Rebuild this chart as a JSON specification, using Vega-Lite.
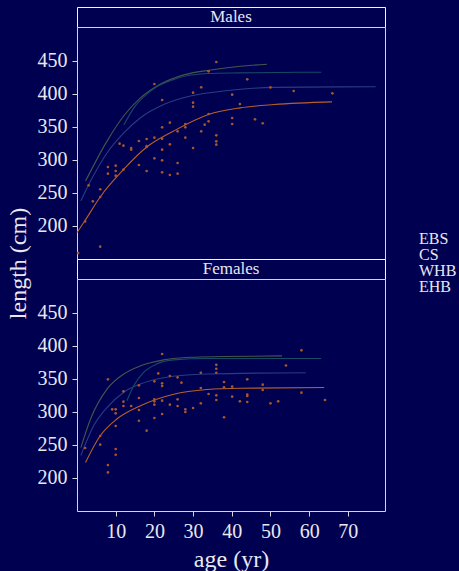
{
  "$schema": "https://vega.github.io/schema/vega-lite/v6.json",
  "background": "#000050",
  "padding": {"left": 5, "top": 6, "right": 5, "bottom": 5},
  "bounds": "flush",
  "config": {
    "font": "Liberation Serif",
    "view": {"stroke": "#d4d4e4", "strokeWidth": 1, "fill": "#000050"},
    "axis": {
      "labelFont": "Liberation Serif", "titleFont": "Liberation Serif",
      "labelColor": "#e8e8f2", "titleColor": "#e8e8f2",
      "labelFontSize": 20, "titleFontSize": 24, "titleFontWeight": "normal",
      "tickColor": "#d4d4e4", "tickSize": 5, "domain": false, "grid": false,
      "labelPadding": 5
    },
    "legend": {
      "labelFont": "Liberation Serif", "labelColor": "#e8e8f2", "labelFontSize": 16
    }
  },
  "resolve": {"scale": {"color": "shared"}, "legend": {"color": "shared"}},
  "datasets": {
    "pts": [
      {"sex": "Males", "age": 36.0, "length": 448.5},
      {"sex": "Males", "age": 34.0, "length": 434.3},
      {"sex": "Males", "age": 20.0, "length": 415.2},
      {"sex": "Males", "age": 44.0, "length": 422.2},
      {"sex": "Males", "age": 32.1, "length": 410.1},
      {"sex": "Males", "age": 30.0, "length": 402.0},
      {"sex": "Males", "age": 50.0, "length": 410.0},
      {"sex": "Males", "age": 56.0, "length": 404.5},
      {"sex": "Males", "age": 66.0, "length": 401.0},
      {"sex": "Males", "age": 40.1, "length": 399.0},
      {"sex": "Males", "age": 22.0, "length": 390.9},
      {"sex": "Males", "age": 30.0, "length": 386.9},
      {"sex": "Males", "age": 30.0, "length": 380.8},
      {"sex": "Males", "age": 42.1, "length": 384.8},
      {"sex": "Males", "age": 34.0, "length": 369.7},
      {"sex": "Males", "age": 40.1, "length": 363.6},
      {"sex": "Males", "age": 40.1, "length": 354.5},
      {"sex": "Males", "age": 46.0, "length": 361.6},
      {"sex": "Males", "age": 48.0, "length": 355.6},
      {"sex": "Males", "age": 34.0, "length": 358.6},
      {"sex": "Males", "age": 33.0, "length": 353.5},
      {"sex": "Males", "age": 28.0, "length": 354.5},
      {"sex": "Males", "age": 28.0, "length": 349.5},
      {"sex": "Males", "age": 24.0, "length": 356.6},
      {"sex": "Males", "age": 22.0, "length": 349.5},
      {"sex": "Males", "age": 26.0, "length": 343.4},
      {"sex": "Males", "age": 32.1, "length": 343.4},
      {"sex": "Males", "age": 28.0, "length": 333.8},
      {"sex": "Males", "age": 30.0, "length": 318.2},
      {"sex": "Males", "age": 36.0, "length": 337.4},
      {"sex": "Males", "age": 36.0, "length": 328.3},
      {"sex": "Males", "age": 36.0, "length": 323.2},
      {"sex": "Males", "age": 20.0, "length": 333.8},
      {"sex": "Males", "age": 22.0, "length": 332.3},
      {"sex": "Males", "age": 18.0, "length": 331.8},
      {"sex": "Males", "age": 18.0, "length": 321.2},
      {"sex": "Males", "age": 18.0, "length": 319.7},
      {"sex": "Males", "age": 16.0, "length": 328.8},
      {"sex": "Males", "age": 14.0, "length": 318.2},
      {"sex": "Males", "age": 14.0, "length": 315.7},
      {"sex": "Males", "age": 12.0, "length": 321.7},
      {"sex": "Males", "age": 11.0, "length": 324.7},
      {"sex": "Males", "age": 24.0, "length": 323.7},
      {"sex": "Males", "age": 22.0, "length": 315.7},
      {"sex": "Males", "age": 20.0, "length": 302.5},
      {"sex": "Males", "age": 22.0, "length": 299.5},
      {"sex": "Males", "age": 26.0, "length": 295.5},
      {"sex": "Males", "age": 16.0, "length": 292.4},
      {"sex": "Males", "age": 18.0, "length": 283.3},
      {"sex": "Males", "age": 22.0, "length": 281.3},
      {"sex": "Males", "age": 24.0, "length": 277.3},
      {"sex": "Males", "age": 26.0, "length": 279.3},
      {"sex": "Males", "age": 12.0, "length": 285.4},
      {"sex": "Males", "age": 10.0, "length": 291.4},
      {"sex": "Males", "age": 10.0, "length": 283.3},
      {"sex": "Males", "age": 10.0, "length": 276.3},
      {"sex": "Males", "age": 8.0, "length": 289.4},
      {"sex": "Males", "age": 8.0, "length": 279.3},
      {"sex": "Males", "age": 6.0, "length": 255.6},
      {"sex": "Males", "age": 6.0, "length": 244.0},
      {"sex": "Males", "age": 3.0, "length": 261.6},
      {"sex": "Males", "age": 4.1, "length": 237.4},
      {"sex": "Males", "age": 2.1, "length": 207.0},
      {"sex": "Males", "age": 6.0, "length": 168.7},
      {"sex": "Males", "age": 0.3, "length": 159.0},
      {"sex": "Females", "age": 22.0, "length": 387.8},
      {"sex": "Females", "age": 58.0, "length": 393.4},
      {"sex": "Females", "age": 54.0, "length": 370.5},
      {"sex": "Females", "age": 36.0, "length": 371.5},
      {"sex": "Females", "age": 36.0, "length": 365.5},
      {"sex": "Females", "age": 36.0, "length": 359.5},
      {"sex": "Females", "age": 32.0, "length": 359.5},
      {"sex": "Females", "age": 21.0, "length": 358.5},
      {"sex": "Females", "age": 24.0, "length": 354.5},
      {"sex": "Females", "age": 26.0, "length": 352.5},
      {"sex": "Females", "age": 27.0, "length": 344.4},
      {"sex": "Females", "age": 20.0, "length": 346.4},
      {"sex": "Females", "age": 22.0, "length": 343.4},
      {"sex": "Females", "age": 22.0, "length": 339.4},
      {"sex": "Females", "age": 16.0, "length": 340.4},
      {"sex": "Females", "age": 8.0, "length": 349.5},
      {"sex": "Females", "age": 12.0, "length": 331.3},
      {"sex": "Females", "age": 12.0, "length": 315.7},
      {"sex": "Females", "age": 12.0, "length": 309.1},
      {"sex": "Females", "age": 14.0, "length": 309.1},
      {"sex": "Females", "age": 10.0, "length": 304.0},
      {"sex": "Females", "age": 9.1, "length": 304.0},
      {"sex": "Females", "age": 10.0, "length": 298.0},
      {"sex": "Females", "age": 10.0, "length": 278.8},
      {"sex": "Females", "age": 16.0, "length": 321.2},
      {"sex": "Females", "age": 16.0, "length": 303.0},
      {"sex": "Females", "age": 16.0, "length": 286.8},
      {"sex": "Females", "age": 18.0, "length": 271.7},
      {"sex": "Females", "age": 20.0, "length": 319.2},
      {"sex": "Females", "age": 20.0, "length": 316.2},
      {"sex": "Females", "age": 20.0, "length": 311.1},
      {"sex": "Females", "age": 20.0, "length": 290.9},
      {"sex": "Females", "age": 22.0, "length": 317.2},
      {"sex": "Females", "age": 22.0, "length": 297.0},
      {"sex": "Females", "age": 24.0, "length": 311.1},
      {"sex": "Females", "age": 26.0, "length": 319.2},
      {"sex": "Females", "age": 26.0, "length": 309.1},
      {"sex": "Females", "age": 28.0, "length": 304.0},
      {"sex": "Females", "age": 28.0, "length": 300.0},
      {"sex": "Females", "age": 30.0, "length": 306.0},
      {"sex": "Females", "age": 32.0, "length": 336.3},
      {"sex": "Females", "age": 32.0, "length": 313.1},
      {"sex": "Females", "age": 34.0, "length": 327.2},
      {"sex": "Females", "age": 36.0, "length": 325.2},
      {"sex": "Females", "age": 36.0, "length": 318.2},
      {"sex": "Females", "age": 38.0, "length": 345.4},
      {"sex": "Females", "age": 38.0, "length": 337.4},
      {"sex": "Females", "age": 38.0, "length": 291.9},
      {"sex": "Females", "age": 40.1, "length": 338.4},
      {"sex": "Females", "age": 40.1, "length": 323.2},
      {"sex": "Females", "age": 42.1, "length": 316.2},
      {"sex": "Females", "age": 44.0, "length": 349.5},
      {"sex": "Females", "age": 44.0, "length": 326.3},
      {"sex": "Females", "age": 44.0, "length": 324.2},
      {"sex": "Females", "age": 44.0, "length": 315.2},
      {"sex": "Females", "age": 48.0, "length": 341.4},
      {"sex": "Females", "age": 48.0, "length": 333.3},
      {"sex": "Females", "age": 50.0, "length": 313.1},
      {"sex": "Females", "age": 52.0, "length": 316.2},
      {"sex": "Females", "age": 58.0, "length": 329.3},
      {"sex": "Females", "age": 64.1, "length": 318.2},
      {"sex": "Females", "age": 2.1, "length": 245.4},
      {"sex": "Females", "age": 6.0, "length": 263.6},
      {"sex": "Females", "age": 6.0, "length": 250.5},
      {"sex": "Females", "age": 8.0, "length": 219.6},
      {"sex": "Females", "age": 8.0, "length": 208.5},
      {"sex": "Females", "age": 10.0, "length": 243.9},
      {"sex": "Females", "age": 10.0, "length": 235.3}
    ],
    "curves": [
      {"sex": "Males", "stock": "EBS", "age": 0.0, "length": 190},
      {"sex": "Males", "stock": "EBS", "age": 2.0, "length": 207.6},
      {"sex": "Males", "stock": "EBS", "age": 6.0, "length": 244},
      {"sex": "Males", "stock": "EBS", "age": 12.1, "length": 286},
      {"sex": "Males", "stock": "EBS", "age": 18.1, "length": 320},
      {"sex": "Males", "stock": "EBS", "age": 25.0, "length": 344},
      {"sex": "Males", "stock": "EBS", "age": 34.0, "length": 369},
      {"sex": "Males", "stock": "EBS", "age": 42.2, "length": 379},
      {"sex": "Males", "stock": "EBS", "age": 50.9, "length": 384},
      {"sex": "Males", "stock": "EBS", "age": 65.9, "length": 388},
      {"sex": "Males", "stock": "CS", "age": 1.0, "length": 238},
      {"sex": "Males", "stock": "CS", "age": 3.5, "length": 268},
      {"sex": "Males", "stock": "CS", "age": 7.8, "length": 311},
      {"sex": "Males", "stock": "CS", "age": 12.1, "length": 341},
      {"sex": "Males", "stock": "CS", "age": 16.4, "length": 364},
      {"sex": "Males", "stock": "CS", "age": 22.4, "length": 384},
      {"sex": "Males", "stock": "CS", "age": 29.3, "length": 397},
      {"sex": "Males", "stock": "CS", "age": 37.9, "length": 404.5},
      {"sex": "Males", "stock": "CS", "age": 50.9, "length": 410},
      {"sex": "Males", "stock": "CS", "age": 77.2, "length": 411},
      {"sex": "Males", "stock": "WHB", "age": 2.2, "length": 268},
      {"sex": "Males", "stock": "WHB", "age": 7.8, "length": 329},
      {"sex": "Males", "stock": "WHB", "age": 12.1, "length": 367},
      {"sex": "Males", "stock": "WHB", "age": 16.4, "length": 394},
      {"sex": "Males", "stock": "WHB", "age": 21.6, "length": 415},
      {"sex": "Males", "stock": "WHB", "age": 27.6, "length": 429},
      {"sex": "Males", "stock": "WHB", "age": 35.4, "length": 437},
      {"sex": "Males", "stock": "WHB", "age": 42.2, "length": 442},
      {"sex": "Males", "stock": "WHB", "age": 49.1, "length": 445},
      {"sex": "Males", "stock": "EHB", "age": 12.1, "length": 353},
      {"sex": "Males", "stock": "EHB", "age": 14.7, "length": 379},
      {"sex": "Males", "stock": "EHB", "age": 19.0, "length": 404.5},
      {"sex": "Males", "stock": "EHB", "age": 25.0, "length": 422},
      {"sex": "Males", "stock": "EHB", "age": 33.6, "length": 431},
      {"sex": "Males", "stock": "EHB", "age": 42.2, "length": 432},
      {"sex": "Males", "stock": "EHB", "age": 63.1, "length": 433},
      {"sex": "Females", "stock": "EBS", "age": 2.2, "length": 223.6},
      {"sex": "Females", "stock": "EBS", "age": 6.0, "length": 264},
      {"sex": "Females", "stock": "EBS", "age": 10.3, "length": 289.4},
      {"sex": "Females", "stock": "EBS", "age": 16.4, "length": 309.5},
      {"sex": "Females", "stock": "EBS", "age": 25.0, "length": 327},
      {"sex": "Females", "stock": "EBS", "age": 33.6, "length": 334},
      {"sex": "Females", "stock": "EBS", "age": 42.2, "length": 336},
      {"sex": "Females", "stock": "EBS", "age": 63.9, "length": 337},
      {"sex": "Females", "stock": "CS", "age": 1.0, "length": 234},
      {"sex": "Females", "stock": "CS", "age": 4.3, "length": 279},
      {"sex": "Females", "stock": "CS", "age": 7.8, "length": 307},
      {"sex": "Females", "stock": "CS", "age": 12.1, "length": 330},
      {"sex": "Females", "stock": "CS", "age": 16.4, "length": 342.5},
      {"sex": "Females", "stock": "CS", "age": 22.4, "length": 352},
      {"sex": "Females", "stock": "CS", "age": 33.6, "length": 357.6},
      {"sex": "Females", "stock": "CS", "age": 59.1, "length": 359.5},
      {"sex": "Females", "stock": "WHB", "age": 1.0, "length": 246},
      {"sex": "Females", "stock": "WHB", "age": 3.5, "length": 289.4},
      {"sex": "Females", "stock": "WHB", "age": 7.8, "length": 335},
      {"sex": "Females", "stock": "WHB", "age": 12.1, "length": 357.6},
      {"sex": "Females", "stock": "WHB", "age": 16.4, "length": 370},
      {"sex": "Females", "stock": "WHB", "age": 22.4, "length": 379},
      {"sex": "Females", "stock": "WHB", "age": 29.3, "length": 383},
      {"sex": "Females", "stock": "WHB", "age": 37.9, "length": 384},
      {"sex": "Females", "stock": "WHB", "age": 53.0, "length": 385},
      {"sex": "Females", "stock": "EHB", "age": 12.9, "length": 317},
      {"sex": "Females", "stock": "EHB", "age": 14.7, "length": 340},
      {"sex": "Females", "stock": "EHB", "age": 17.2, "length": 360},
      {"sex": "Females", "stock": "EHB", "age": 20.7, "length": 373},
      {"sex": "Females", "stock": "EHB", "age": 25.0, "length": 379},
      {"sex": "Females", "stock": "EHB", "age": 33.6, "length": 381},
      {"sex": "Females", "stock": "EHB", "age": 63.1, "length": 381}
    ],
    "stripM": [{"label": "Males"}],
    "stripF": [{"label": "Females"}]
  },
  "spacing": 0,
  "vconcat": [
    {
      "width": 308, "height": 20,
      "data": {"name": "stripM"},
      "view": {"stroke": "#f4f4ff"},
      "mark": {"type": "text", "font": "Liberation Serif", "fontSize": 17, "color": "#e8e8f2", "baseline": "middle", "align": "center"},
      "encoding": {"text": {"field": "label"}}
    },
    {
      "width": 308, "height": 232,
      "layer": [
        {
          "data": {"name": "curves"},
          "transform": [{"filter": "datum.sex === 'Males'"}],
          "mark": {"type": "line", "strokeWidth": 1.1, "interpolate": "monotone"},
          "encoding": {
            "x": {"field": "age", "type": "quantitative", "scale": {"domain": [0, 79.6], "nice": false, "zero": false}, "axis": null},
            "y": {"field": "length", "type": "quantitative", "scale": {"domain": [150, 501.5], "nice": false, "zero": false},
                  "axis": {"title": "length (cm)", "values": [200, 250, 300, 350, 400, 450], "titleY": 236, "titlePadding": 7}},
            "color": {"field": "stock", "type": "nominal",
                      "scale": {"domain": ["EBS", "CS", "WHB", "EHB"], "range": ["#b8602a", "#2a3c80", "#46564a", "#164a66"]},
                      "legend": {"title": null, "orient": "none", "legendX": 326, "legendY": 224, "symbolOpacity": 0, "symbolSize": 0, "symbolStrokeWidth": 0, "labelOffset": 0, "rowPadding": -4, "labelFontSize": 16}}
          }
        },
        {
          "data": {"name": "pts"},
          "transform": [{"filter": "datum.sex === 'Males'"}],
          "mark": {"type": "circle", "size": 7, "color": "#a8562a", "opacity": 1},
          "encoding": {
            "x": {"field": "age", "type": "quantitative"},
            "y": {"field": "length", "type": "quantitative"}
          }
        }
      ]
    },
    {
      "width": 308, "height": 20,
      "data": {"name": "stripF"},
      "view": {"stroke": "#f4f4ff"},
      "mark": {"type": "text", "font": "Liberation Serif", "fontSize": 17, "color": "#e8e8f2", "baseline": "middle", "align": "center"},
      "encoding": {"text": {"field": "label"}}
    },
    {
      "width": 308, "height": 232,
      "layer": [
        {
          "data": {"name": "curves"},
          "transform": [{"filter": "datum.sex === 'Females'"}],
          "mark": {"type": "line", "strokeWidth": 1.1, "interpolate": "monotone"},
          "encoding": {
            "x": {"field": "age", "type": "quantitative", "scale": {"domain": [0, 79.6], "nice": false, "zero": false},
                  "axis": {"title": "age (yr)", "values": [10, 20, 30, 40, 50, 60, 70], "titlePadding": 6}},
            "y": {"field": "length", "type": "quantitative", "scale": {"domain": [150, 501.5], "nice": false, "zero": false},
                  "axis": {"title": null, "values": [200, 250, 300, 350, 400, 450]}},
            "color": {"field": "stock", "type": "nominal",
                      "scale": {"domain": ["EBS", "CS", "WHB", "EHB"], "range": ["#b8602a", "#2a3c80", "#46564a", "#164a66"]}}
          }
        },
        {
          "data": {"name": "pts"},
          "transform": [{"filter": "datum.sex === 'Females'"}],
          "mark": {"type": "circle", "size": 7, "color": "#a8562a", "opacity": 1},
          "encoding": {
            "x": {"field": "age", "type": "quantitative"},
            "y": {"field": "length", "type": "quantitative"}
          }
        }
      ]
    }
  ]
}
